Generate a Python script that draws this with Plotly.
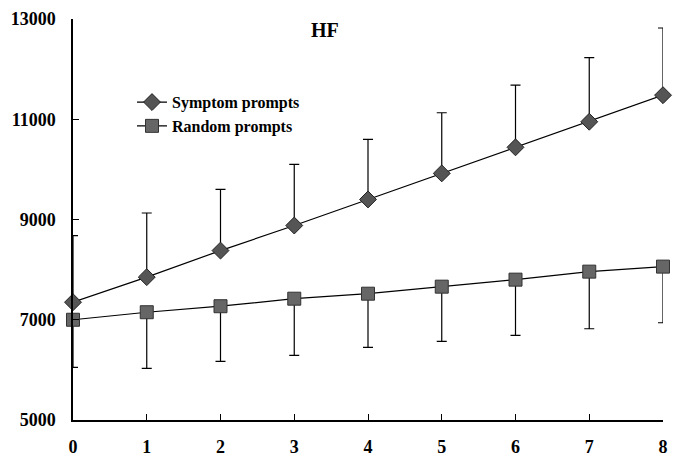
import plotly.graph_objects as go

time_points = [0, 1, 2, 3, 4, 5, 6, 7, 8]
symptom_mean = [7350, 7850, 8380, 8880, 9400, 9920, 10440, 10950, 11480]
symptom_sd = [1330, 1280, 1220, 1220, 1200, 1210, 1240, 1280, 1340]
random_mean = [7000, 7150, 7270, 7420, 7520, 7660, 7800, 7960, 8060]
random_sd = [950, 1120, 1100, 1130, 1070, 1090, 1110, 1140, 1120]
y_ticks = [5000, 7000, 9000, 11000, 13000]
y_tick_labels = ["5000", "7000", "9000", "11000", "13000"]

FONT = "Liberation Serif"

fig = go.Figure()
fig.add_trace(go.Scatter(
    x=time_points, y=symptom_mean, name="Symptom prompts",
    mode="lines+markers",
    line=dict(color="black", width=1.2),
    marker=dict(symbol="diamond", size=13, color="#555555",
                line=dict(color="#222", width=1)),
    error_y=dict(type="data", symmetric=False, array=symptom_sd,
                 arrayminus=[0] * len(symptom_sd), color="black",
                 thickness=1.2, width=5),
    cliponaxis=False,
))
fig.add_trace(go.Scatter(
    x=time_points, y=random_mean, name="Random prompts",
    mode="lines+markers",
    line=dict(color="black", width=1.2),
    marker=dict(symbol="square", size=13, color="#666666",
                line=dict(color="#333", width=1)),
    error_y=dict(type="data", symmetric=False, array=[0] * len(random_sd),
                 arrayminus=random_sd, color="black",
                 thickness=1.2, width=5),
    cliponaxis=False,
))

fig.add_annotation(text="HF", x=0.427, y=13000 - 220, xref="paper", yref="y",
                   showarrow=False,
                   font=dict(family=FONT, size=20, color="black", weight="bold"))

fig.update_layout(
    width=674, height=463,
    margin=dict(l=73, r=6, t=19, b=42),
    paper_bgcolor="white", plot_bgcolor="white",
    showlegend=True,
    legend=dict(x=0.1, y=0.835, xanchor="left", yanchor="top",
                bgcolor="rgba(0,0,0,0)",
                font=dict(family=FONT, size=16, color="black", weight="bold"),
                tracegroupgap=0, itemwidth=30),
    font=dict(family=FONT, color="black"),
)
fig.update_xaxes(range=[0, 8], tickvals=time_points, ticks="inside", ticklen=6,
                 tickcolor="black", showline=True, linecolor="black", linewidth=1.5,
                 showgrid=False, zeroline=False, ticklabelstandoff=10,
                 tickfont=dict(family=FONT, size=18, color="black", weight="bold"))
fig.update_yaxes(range=[5000, 13000], tickvals=y_ticks, ticktext=y_tick_labels,
                 ticks="inside", ticklen=6,
                 tickcolor="black", showline=True, linecolor="black", linewidth=1.5,
                 showgrid=False, zeroline=False, ticklabelstandoff=12,
                 tickfont=dict(family=FONT, size=18, color="black", weight="bold"))

fig.write_html("out.html")
